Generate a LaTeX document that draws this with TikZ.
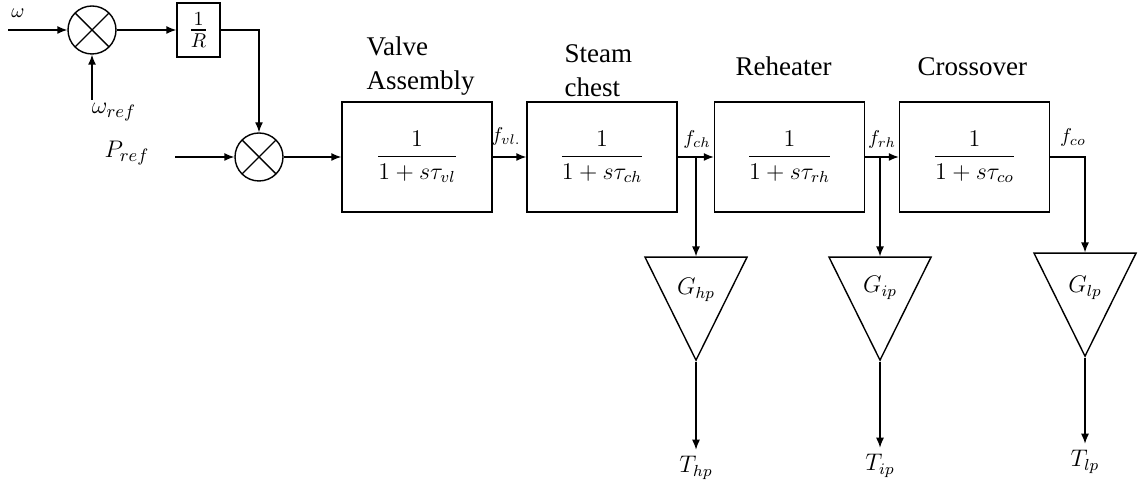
\documentclass[tikz,border=0pt]{standalone}
\usepackage{amsmath}
\usepackage{fontspec}
\setmainfont{Liberation Serif}
\newfontfamily\lblfont{Liberation Serif}
\usetikzlibrary{arrows.meta,positioning,shapes.geometric}

\begin{document}
\begin{tikzpicture}[x=0.5pt,y=-0.5pt,line width=0.7pt,
  blk/.style={rectangle,draw,minimum width=75pt,minimum height=55pt,font=\large},
  gainbox/.style={rectangle,draw,minimum width=21.5pt,minimum height=27pt,inner sep=0pt,font=\Large},
  sumj/.style={circle,draw,minimum size=24pt,inner sep=0pt,path picture={
      \draw (path picture bounding box.north west) -- (path picture bounding box.south east)
            (path picture bounding box.south west) -- (path picture bounding box.north east);}},
  tri/.style={isosceles triangle,isosceles triangle stretches,shape border rotate=-90,
              draw,minimum width=51pt,minimum height=51.5pt,inner sep=0pt},
  lbl/.style={font=\lblfont\fontsize{13.5}{17}\selectfont,align=left,inner sep=0pt,anchor=base west},
  sig/.style={inner sep=1pt},
  outl/.style={inner sep=3pt,font=\large},
  arr/.style={-{Latex[length=5pt,width=4pt]}}
]
  \useasboundingbox (0,0) rectangle (1139,490);

  \node[sumj] (s1) at (92,30) {};
  \node[gainbox] (r) at (198.5,30) {$\frac{1}{R}$};
  \node[sumj] (s2) at (259,157) {};

  \node[blk] (b1) at (417,157) {$\dfrac{1}{1+s\tau_{vl}}$};
  \node[blk] (b2) at (602,157) {$\dfrac{1}{1+s\tau_{ch}}$};
  \node[blk] (b3) at (789.5,157) {$\dfrac{1}{1+s\tau_{rh}}$};
  \node[blk] (b4) at (974.5,157) {$\dfrac{1}{1+s\tau_{co}}$};

  \node[lbl] (lv) at (366,90) {Valve\\Assembly};
  \node[lbl] (ls) at (564,97) {Steam\\chest};
  \node[lbl] (lr) at (735,76) {Reheater};
  \node[lbl] (lc) at (917,76) {Crossover};

  \node[sig] (w) at (18,13) {$\omega$};
  \node[sig,font=\fontsize{12.5}{14}\selectfont] (wref) at (114,112) {$\omega_{ref}$};
  \node[sig,font=\fontsize{13}{15}\selectfont] (pref) at (127,153) {$P_{ref}$};
  \node[sig] (fvl) at (506,137) {$f_{vl.}$};
  \node[sig] (fch) at (697,140) {$f_{ch}$};
  \node[sig] (frh) at (882,140) {$f_{rh}$};
  \node[sig] (fco) at (1073,138) {$f_{co}$};

  \coordinate (w0) at (8,30);
  \coordinate (wr0) at (92,100);
  \coordinate (p0) at (175,157);
  \coordinate (j1) at (696,157);
  \coordinate (j2) at (880,157);

  \node[tri,anchor=apex] (t1) at (696,362) {};
  \node[tri,anchor=apex] (t2) at (880,362) {};
  \node[tri,anchor=apex] (t3) at (1085,358) {};
  \node[font=\large] (ghp) at (696,290) {$G_{hp}$};
  \node[font=\large] (gip) at (880,288) {$G_{ip}$};
  \node[font=\large] (glp) at (1085,288) {$G_{lp}$};

  \node[outl] (thp) at (696,468) {$T_{hp}$};
  \node[outl] (tip) at (880,466) {$T_{ip}$};
  \node[outl] (tlp) at (1085,462) {$T_{lp}$};

  \draw[arr] (w0) -- (s1);
  \draw[arr] (wr0) -- (s1);
  \draw[arr] (s1) -- (r);
  \draw[arr] (r.east) -| (s2.north);
  \draw[arr] (p0) -- (s2);
  \draw[arr] (s2) -- (b1);
  \draw[arr] (b1) -- (b2);
  \draw[arr] (b2) -- (b3);
  \draw[arr] (b3) -- (b4);
  \draw[arr] (j1) -- (t1.lower side);
  \draw[arr] (j2) -- (t2.lower side);
  \draw[arr] (b4.east) -| (t3.lower side);
  \draw[arr] (t1.apex) -- (thp);
  \draw[arr] (t2.apex) -- (tip);
  \draw[arr] (t3.apex) -- (tlp);
\end{tikzpicture}
\end{document}
